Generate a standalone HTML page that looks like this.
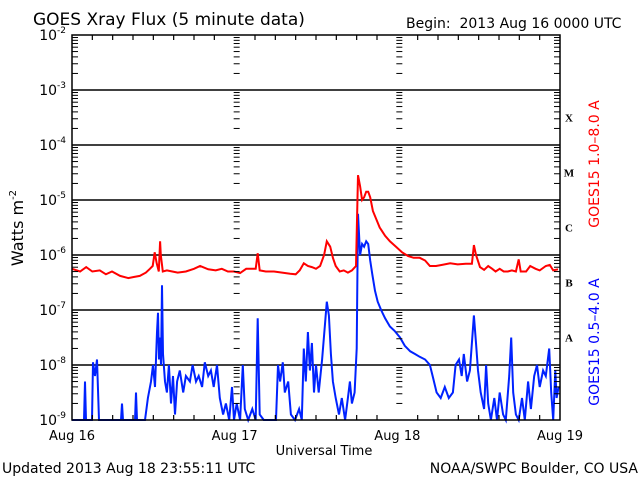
<!DOCTYPE html>
<html><head><meta charset="utf-8"><style>
html,body{margin:0;padding:0;background:#fff;}
svg{display:block;font-family:"DejaVu Sans","Liberation Sans",sans-serif;}
</style></head><body>
<svg id="chart" width="640" height="480" viewBox="0 0 640 480" xmlns="http://www.w3.org/2000/svg">
<rect x="0" y="0" width="640" height="480" fill="#fff"/>
<text x="33" y="25" font-size="17" fill="#000">GOES Xray Flux (5 minute data)</text>
<text x="406" y="28" font-size="14" fill="#000" xml:space="preserve">Begin:  2013 Aug 16 0000 UTC</text>
<text transform="translate(23,228) rotate(-90)" text-anchor="middle" font-size="16" fill="#000">Watts m<tspan font-size="10" dy="-7">-2</tspan></text>
<text x="324" y="455" text-anchor="middle" font-size="13" fill="#000">Universal Time</text>
<text x="2" y="473" font-size="14" fill="#000">Updated 2013 Aug 18 23:55:11 UTC</text>
<text x="638" y="473" text-anchor="end" font-size="14" fill="#000">NOAA/SWPC Boulder, CO USA</text>
<text transform="translate(599,164) rotate(-90)" text-anchor="middle" font-size="14" fill="#ff0000">GOES15 1.0–8.0 A</text>
<text transform="translate(599,342) rotate(-90)" text-anchor="middle" font-size="14" fill="#0000ff">GOES15 0.5–4.0 A</text>
<g id="grid"></g>
<g id="series"></g>
<g id="axes"></g>
</svg>
<script>
// ---- data ----
const dayLabels = ["Aug 16", "Aug 17", "Aug 18", "Aug 19"];
const decadeExps = [-2, -3, -4, -5, -6, -7, -8, -9];
const classLetters = ["X", "M", "C", "B", "A"];
const classExps = [-3, -4, -5, -6, -7];
const redHours = [0,1.2,2.1,3.0,4.1,5.0,5.9,7.1,8.3,9.1,10.0,10.9,11.5,11.9,12.2,12.5,12.8,13.0,13.1,13.4,14.0,14.8,15.6,16.8,18.0,18.9,20.1,21.2,22.1,23.0,23.9,24.8,25.7,26.6,27.1,27.4,27.7,28.6,29.8,31.0,32.2,33.0,33.6,34.2,34.8,35.4,36.0,36.6,37.2,37.6,38.1,38.5,38.9,39.5,40.1,40.7,41.3,41.9,42.2,42.5,42.8,43.1,43.4,43.7,44.0,44.4,44.9,45.4,46.2,46.9,47.8,48.7,49.6,50.4,51.3,52.1,52.8,53.7,54.6,55.8,56.9,58.1,59.0,59.3,59.6,60.2,60.8,61.4,62.0,62.5,63.1,63.7,64.3,64.9,65.5,65.9,66.2,67.0,67.6,68.4,69.0,69.9,70.5,71.0,71.7];
const redLog = [-6.25,-6.3,-6.22,-6.3,-6.28,-6.35,-6.3,-6.38,-6.42,-6.4,-6.38,-6.32,-6.25,-6.2,-5.95,-6.15,-6.3,-5.75,-6.0,-6.3,-6.28,-6.3,-6.32,-6.3,-6.25,-6.2,-6.26,-6.28,-6.25,-6.3,-6.3,-6.33,-6.25,-6.25,-6.25,-5.97,-6.28,-6.3,-6.3,-6.32,-6.34,-6.35,-6.28,-6.15,-6.2,-6.22,-6.25,-6.2,-6.0,-5.75,-5.85,-6.05,-6.2,-6.3,-6.28,-6.32,-6.28,-6.2,-4.55,-4.75,-5.0,-4.95,-4.85,-4.85,-4.95,-5.2,-5.35,-5.5,-5.65,-5.75,-5.85,-5.95,-6.02,-6.05,-6.05,-6.1,-6.2,-6.2,-6.18,-6.15,-6.17,-6.16,-6.16,-5.82,-6.0,-6.22,-6.27,-6.2,-6.25,-6.3,-6.25,-6.3,-6.3,-6.28,-6.3,-6.08,-6.3,-6.3,-6.2,-6.25,-6.28,-6.2,-6.18,-6.28,-6.26];
const blueHours = [0,1.77,1.92,2.07,2.95,3.1,3.39,3.69,3.98,7.23,7.38,7.52,9.29,9.44,9.59,10.77,11.2,11.65,11.95,12.24,12.54,12.69,12.83,12.98,13.13,13.28,13.42,13.72,14.0,14.3,14.6,14.9,15.2,15.5,15.9,16.4,16.8,17.4,17.8,18.3,18.7,19.2,19.6,20.1,20.5,20.9,21.4,21.8,22.3,22.7,23.2,23.6,23.9,24.3,24.8,25.2,25.5,26.0,26.6,27.1,27.4,27.7,28.3,29.2,30.1,30.4,30.7,31.1,31.4,31.9,32.3,32.9,33.5,33.9,34.2,34.5,34.8,35.1,35.4,35.7,36.0,36.4,36.9,37.3,37.6,37.9,38.2,38.5,38.9,39.4,39.8,40.3,40.7,41.0,41.3,41.7,42.0,42.2,42.5,42.8,43.1,43.4,43.7,44.0,44.3,44.7,45.1,45.6,46.2,46.9,47.6,48.4,49.1,49.9,50.6,51.3,52.1,52.8,53.3,53.8,54.4,55.0,55.6,56.2,56.6,57.1,57.5,57.8,58.3,58.7,59.0,59.3,59.6,59.9,60.3,60.8,61.1,61.4,61.8,62.3,62.7,63.1,63.6,64.0,64.5,64.8,65.1,65.5,65.9,66.4,66.8,67.3,67.7,68.2,68.6,69.0,69.5,69.9,70.4,70.7,71.0,71.3,71.5,71.8];
const blueLog = [-9,-9,-8.3,-9,-9,-7.95,-8.2,-7.9,-9,-9,-8.7,-9,-9,-8.5,-9,-9,-8.6,-8.3,-8.0,-8.4,-7.4,-7.05,-7.9,-7.5,-8.0,-6.55,-7.8,-8.3,-8.5,-8.0,-8.7,-8.2,-8.9,-8.3,-8.1,-8.5,-8.2,-8.3,-8.0,-8.3,-8.2,-8.4,-7.95,-8.2,-8.1,-8.4,-8.0,-8.6,-8.9,-8.7,-9,-8.4,-9,-8.7,-9,-8.0,-8.8,-9,-8.8,-9,-7.15,-8.9,-9,-9,-9,-8.0,-8.3,-7.95,-8.5,-8.3,-8.9,-9,-8.8,-9,-7.7,-8.3,-7.4,-8.1,-7.6,-8.5,-8.0,-8.5,-7.9,-7.3,-6.85,-7.1,-7.8,-8.3,-8.6,-8.9,-8.6,-9,-8.6,-8.3,-8.7,-8.5,-7.7,-5.25,-6.0,-5.8,-5.85,-5.75,-5.8,-6.1,-6.35,-6.65,-6.85,-7.0,-7.15,-7.3,-7.38,-7.5,-7.65,-7.75,-7.8,-7.85,-7.9,-8.0,-8.25,-8.5,-8.6,-8.4,-8.6,-8.5,-8.0,-7.9,-8.2,-7.8,-8.3,-8.1,-7.6,-7.1,-7.6,-8.1,-8.5,-8.8,-8.0,-8.7,-9,-8.6,-9,-8.5,-8.9,-9,-8.2,-7.5,-8.5,-8.9,-9,-8.6,-9,-8.3,-8.8,-8.2,-8.0,-8.4,-8.1,-8.2,-7.7,-8.5,-9,-8.1,-8.6,-8.4];

// ---- axes functions ----
const L = 72, R = 560, T = 35, B = 420;
const NS = "http://www.w3.org/2000/svg";
function xScale(h) { return L + (R - L) * h / 72; }
function yScale(lg) { return T + (-2 - lg) * (B - T) / 7; }
function mk(tag, attrs, parent) {
  const e = document.createElementNS(NS, tag);
  for (const k in attrs) e.setAttribute(k, attrs[k]);
  parent.appendChild(e);
  return e;
}
const grid = document.getElementById('grid');
const axes = document.getElementById('axes');
const series = document.getElementById('series');

decadeExps.forEach(function (ex) {
  const y = yScale(ex);
  if (ex !== -2 && ex !== -9) {
    const ln = mk('line', {x1: L, x2: R, y1: y, y2: y, stroke: '#000', 'stroke-width': 1.5}, grid);
    
    
  }
  const t = mk('text', {x: 66, y: y + 5, 'text-anchor': 'end', 'font-size': 14, fill: '#000'}, axes);
  
  
  t.textContent = '10';
  const s = mk('tspan', {dy: -7, 'font-size': 9}, t);
  s.textContent = String(ex);
});

for (let d = -9; d < -2; d++) {
  for (let m = 2; m <= 9; m++) {
    const y = yScale(d + Math.log10(m));
    mk('line', {x1: L, x2: L + 6, y1: y, y2: y, stroke: '#000', 'stroke-width': 1}, axes);
    mk('line', {x1: R - 6, x2: R, y1: y, y2: y, stroke: '#000', 'stroke-width': 1}, axes);
    [24, 48].forEach(function (h) {
      const x = xScale(h);
      mk('line', {x1: x - 1, x2: x + 5, y1: y, y2: y, stroke: '#000', 'stroke-width': 1}, axes);
    });
  }
}
for (let h = 3; h < 72; h += 3) {
  const x = xScale(h);
  const len = (h % 24 === 0) ? 0 : 5;
  mk('line', {x1: x, x2: x, y1: T, y2: T + len, stroke: '#000', 'stroke-width': 1.2}, axes);
  mk('line', {x1: x, x2: x, y1: B, y2: B - len, stroke: '#000', 'stroke-width': 1.2}, axes);
}
dayLabels.forEach(function (lab, i) {
  const t = mk('text', {x: xScale(i * 24), y: 440, 'text-anchor': 'middle', 'font-size': 13, fill: '#000'}, axes);
  
  
  t.textContent = lab;
});
classLetters.forEach(function (c, i) {
  const t = mk('text', {x: 569, y: yScale(classExps[i] - 0.5) + 4, 'text-anchor': 'middle', 'font-size': 11, 'font-weight': 'bold', 'font-family': 'Liberation Serif, serif', fill: '#000'}, axes);
  
  
  t.textContent = c;
});
const fr = mk('rect', {x: L, y: T, width: R - L, height: B - T, fill: 'none', stroke: '#000', 'stroke-width': 1.5}, axes);



function pts(hs, vs) {
  return hs.map(function (h, i) { return xScale(h).toFixed(1) + ',' + yScale(vs[i]).toFixed(1); }).join(' ');
}
const blue = mk('polyline', {points: pts(blueHours, blueLog), fill: 'none', stroke: '#0022ff', 'stroke-width': 2}, series);


const red = mk('polyline', {points: pts(redHours, redLog), fill: 'none', stroke: '#ff0000', 'stroke-width': 2}, series);


</script>
</body></html>
